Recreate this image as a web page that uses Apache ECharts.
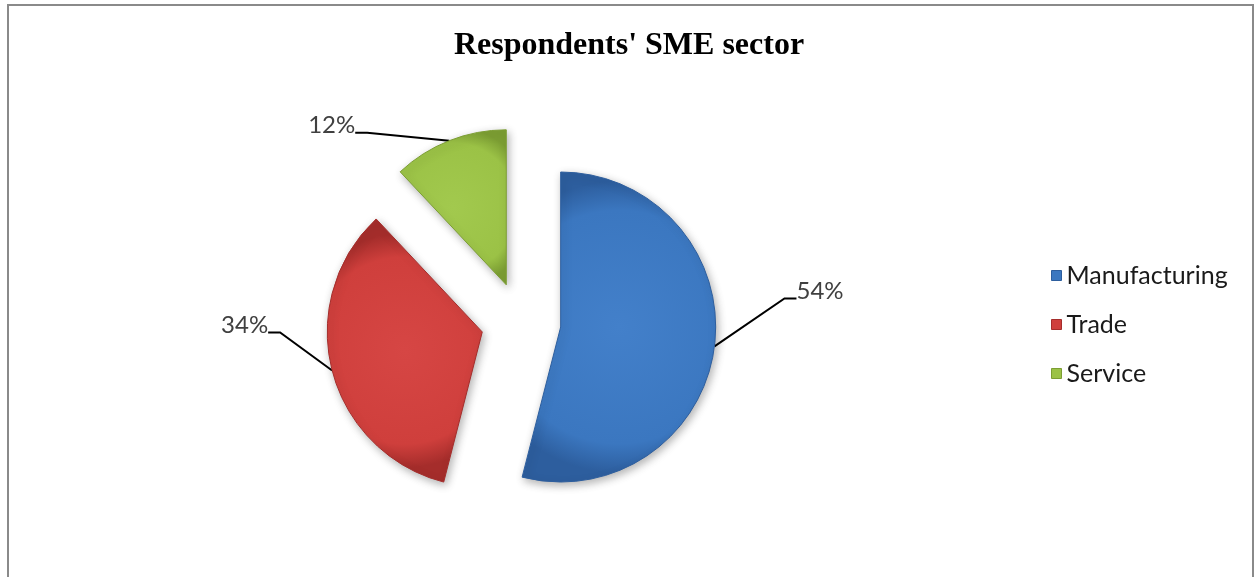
<!DOCTYPE html>
<html>
<head>
<meta charset="utf-8">
<title>Respondents' SME sector</title>
<script src="https://cdn.jsdelivr.net/npm/echarts@6/dist/echarts.min.js"></script>
<style>
  html, body { margin: 0; padding: 0; background: #ffffff; }
  #chart { width: 1258px; height: 577px; }
</style>
</head>
<body>
<div id="chart"></div>
<script>
// Survey breakdown: share of respondents by SME sector (percent)
const sectors = ['Manufacturing', 'Trade', 'Service'];
const shares = [54, 34, 12];

// Slice shading: [highlight, base, rim]
const sliceShades = [
  ['#4380ca', '#3b77c0', '#2d5e9e'],
  ['#d64644', '#cf3f3c', '#a52d2b'],
  ['#a2c94e', '#9bc246', '#7c9e33']
];

// Where each percentage label sits relative to its slice's leader-line anchor
const labelNudge = [
  { dx: 82, dy: -48, align: 'left' },
  { dx: -64, dy: -38, align: 'right' },
  { dx: -94, dy: -8, align: 'right' }
];

const uiFont = 'Lato, "Open Sans", sans-serif';
const pieCenter = [521, 322];
const pieRadius = 155;
const explode = 40;

function sliceFill(i) {
  return {
    type: 'radial', x: 0.5, y: 0.5, r: 0.75,
    colorStops: [
      { offset: 0, color: sliceShades[i][0] },
      { offset: 0.8, color: sliceShades[i][1] },
      { offset: 1, color: sliceShades[i][2] }
    ]
  };
}

const hiddenSlice = {
  color: 'rgba(0,0,0,0)',
  borderWidth: 0,
  shadowBlur: 0,
  shadowColor: 'rgba(0,0,0,0)'
};

// Each slice is pulled out from the pie centre along its own mid-angle,
// so every slice gets a pie of its own with the other slices left invisible.
const total = shares.reduce((a, b) => a + b, 0);
let running = 0;
const pieSeries = shares.map((share, i) => {
  const mid = (running + share / 2) / total * Math.PI * 2;
  running += share;
  return {
    type: 'pie',
    name: sectors[i],
    center: [pieCenter[0] + explode * Math.sin(mid), pieCenter[1] - explode * Math.cos(mid)],
    radius: pieRadius,
    startAngle: 90,
    clockwise: true,
    selectedMode: false,
    emphasis: { disabled: true },
    z: 2,
    label: {
      show: false,
      position: 'outside',
      // trailing blank line keeps the leader line level with the text's baseline
      formatter: '{c}%\n',
      fontFamily: uiFont,
      fontSize: 24,
      lineHeight: 14,
      color: '#404040'
    },
    labelLine: {
      show: false,
      length: 10,
      length2: 12,
      lineStyle: { color: '#000000', width: 2 }
    },
    labelLayout: function (params) {
      const points = params.labelLinePoints;
      if (params.dataIndex !== i || !points || !points[0]) {
        return {};
      }
      const nudge = labelNudge[i];
      return {
        x: points[0][0] + nudge.dx,
        y: points[0][1] + nudge.dy,
        align: nudge.align,
        verticalAlign: 'middle'
      };
    },
    data: sectors.map((name, j) => ({
      name: name,
      value: shares[j],
      itemStyle: j === i ? {
        color: sliceFill(j),
        borderColor: sliceShades[j][2],
        borderWidth: 1,
        shadowBlur: 8,
        shadowOffsetX: 2,
        shadowOffsetY: 3,
        shadowColor: 'rgba(0, 0, 0, 0.3)'
      } : hiddenSlice,
      label: { show: j === i },
      labelLine: { show: j === i }
    }))
  };
});

const chart = echarts.init(document.getElementById('chart'), null, { renderer: 'canvas' });

chart.setOption({
  animation: false,
  backgroundColor: '#ffffff',
  graphic: [{
    type: 'rect',
    shape: { x: 8, y: 5, width: 1245, height: 620 },
    style: { fill: 'none', stroke: '#8a8a8a', lineWidth: 2 },
    silent: true
  }],
  title: {
    text: "Respondents' SME sector",
    left: 'center',
    top: 25,
    textStyle: {
      fontFamily: '"Liberation Serif", "Times New Roman", serif',
      fontWeight: 'bold',
      fontSize: 32,
      color: '#000000'
    }
  },
  legend: {
    orient: 'vertical',
    left: 1046,
    top: 258,
    icon: 'rect',
    itemWidth: 10,
    itemHeight: 10,
    itemGap: 24,
    selectedMode: false,
    data: sectors.map((name, i) => ({
      name: name,
      itemStyle: { color: sliceShades[i][1], borderColor: sliceShades[i][2], borderWidth: 1 }
    })),
    textStyle: {
      fontFamily: uiFont,
      fontSize: 25,
      lineHeight: 25,
      color: '#1a1a1a'
    }
  },
  series: pieSeries
});
</script>
</body>
</html>
